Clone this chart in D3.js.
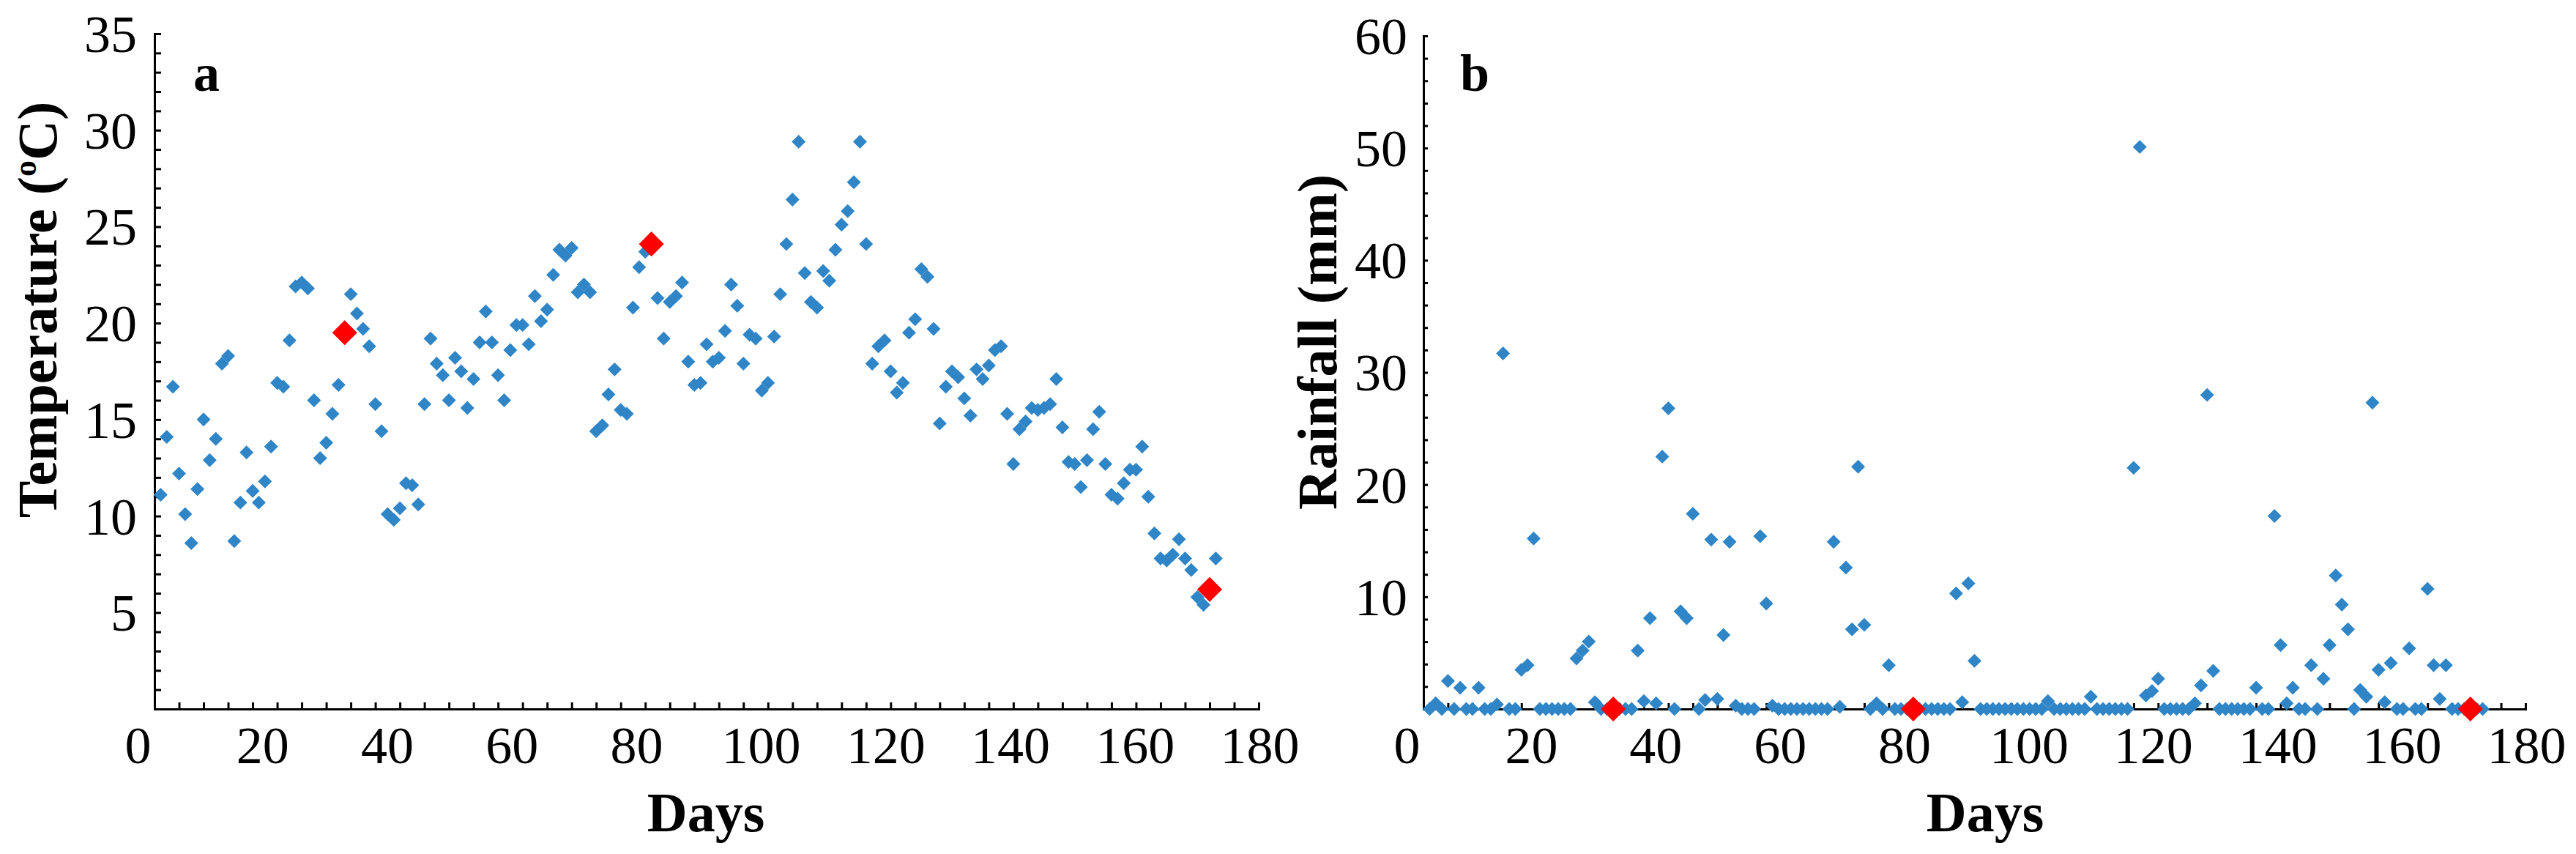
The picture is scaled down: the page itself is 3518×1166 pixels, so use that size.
<!DOCTYPE html>
<html>
<head>
<meta charset="utf-8">
<script src="https://cdn.jsdelivr.net/npm/d3@7"></script>
<style>
  body { margin: 0; background: #fff; }
  svg { display: block; background: #fff; }
</style>
</head>
<body>
<script>
const width  = 3518;
const height = 1166;

// daily mean temperature (day 1 .. 173)
const temperature = [
  11.1, 14.1, 16.7, 12.2, 10.1, 8.6, 11.4, 15.0, 12.9, 14.0,
  17.9, 18.3, 8.7, 10.7, 13.3, 11.3, 10.7, 11.8, 13.6, 16.9,
  16.7, 19.1, 21.9, 22.1, 21.8, 16.0, 13.0, 13.8, 15.3, 16.8,
  19.5, 21.5, 20.5, 19.7, 18.8, 15.8, 14.4, 10.1, 9.8, 10.4,
  11.7, 11.6, 10.6, 15.8, 19.2, 17.9, 17.3, 16.0, 18.2, 17.5,
  15.6, 17.1, 19.0, 20.6, 19.0, 17.3, 16.0, 18.6, 19.9, 19.9,
  18.9, 21.4, 20.1, 20.7, 22.5, 23.8, 23.5, 23.9, 21.6, 22.0,
  21.6, 14.4, 14.7, 16.3, 17.6, 15.5, 15.3, 20.8, 22.9, 23.7,
  24.1, 21.3, 19.2, 21.1, 21.4, 22.1, 18.0, 16.8, 16.9, 18.9,
  18.0, 18.2, 19.6, 22.0, 20.9, 17.9, 19.4, 19.2, 16.5, 16.9,
  19.3, 21.5, 24.1, 26.4, 29.4, 22.6, 21.1, 20.8, 22.7, 22.2,
  23.8, 25.1, 25.8, 27.3, 29.4, 24.1, 17.9, 18.8, 19.1, 17.5,
  16.4, 16.9, 19.5, 20.2, 22.8, 22.4, 19.7, 14.8, 16.7, 17.5,
  17.2, 16.1, 15.2, 17.6, 17.1, 17.8, 18.6, 18.8, 15.3, 12.7,
  14.5, 14.9, 15.6, 15.5, 15.6, 15.8, 17.1, 14.6, 12.8, 12.7,
  11.5, 12.9, 14.5, 15.4, 12.7, 11.1, 10.9, 11.7, 12.4, 12.4,
  13.6, 11.0, 9.1, 7.8, 7.7, 8.0, 8.8, 7.8, 7.2, 5.8,
  5.4, 6.2, 7.8
];

// daily rainfall in mm (day 1 .. 173)
const rainfall = [
  0, 0.5, 0, 2.5, 0, 1.9, 0, 0, 1.9, 0,
  0, 0.4, 31.7, 0, 0, 3.5, 3.9, 15.2, 0, 0,
  0, 0, 0, 0, 4.5, 5.2, 6.0, 0.6, 0, 0,
  0, 0, 0, 0, 5.2, 0.7, 8.1, 0.5, 22.5, 26.8,
  0, 8.7, 8.1, 17.4, 0, 0.8, 15.1, 0.9, 6.6, 14.9,
  0.3, 0, 0, 0, 15.4, 9.4, 0.3, 0, 0, 0,
  0, 0, 0, 0, 0, 0, 14.9, 0.2, 12.6, 7.1,
  21.6, 7.5, 0, 0.5, 0, 3.9, 0, 0, 0, 0,
  0, 0, 0, 0, 0, 0, 10.3, 0.6, 11.2, 4.3,
  0, 0, 0, 0, 0, 0, 0, 0, 0, 0,
  0, 0.7, 0, 0, 0, 0, 0, 0, 1.1, 0,
  0, 0, 0, 0, 0, 21.5, 50.1, 1.2, 1.6, 2.7,
  0, 0, 0, 0, 0, 0.5, 2.1, 28.0, 3.4, 0,
  0, 0, 0, 0, 0, 1.9, 0, 0, 17.2, 5.7,
  0.5, 1.9, 0, 0, 3.9, 0, 2.7, 5.7, 11.9, 9.3,
  7.1, 0, 1.7, 1.1, 27.3, 3.5, 0.6, 4.1, 0, 0,
  5.4, 0, 0, 10.7, 3.9, 0.9, 3.9, 0, 0, 0,
  0, 0, 0
];

// highlighted sampling days
const sampleDaysA = [31, 81, 172];
const sampleDaysB = [31, 80, 171];

const dayLabels  = [0, 20, 40, 60, 80, 100, 120, 140, 160, 180];
const tempLabels = [5, 10, 15, 20, 25, 30, 35];
const rainLabels = [10, 20, 30, 40, 50, 60];

const blue = '#2f85c6';
const red  = '#ff0000';
const font = '"Liberation Serif", "Times New Roman", serif';

const diamond = {
  draw(context, size) {
    const r = Math.sqrt(size / 2);
    context.moveTo(0, -r);
    context.lineTo(r, 0);
    context.lineTo(0, r);
    context.lineTo(-r, 0);
    context.closePath();
  }
};

const svg = d3.select('body').append('svg')
  .attr('width', width)
  .attr('height', height);

svg.append('rect').attr('width', width).attr('height', height).attr('fill', '#fff');

const drawPanel = function(p) {
  const x = d3.scaleLinear().domain([0, 180]).range([p.x0, p.x1]);
  const y = d3.scaleLinear().domain([0, p.yMax]).range([p.y0, p.y1]);
  const g = svg.append('g');

  const xAxis = d3.axisBottom(x)
    .tickValues(d3.range(0, 181, 4))
    .tickSize(-p.xTick)
    .tickSizeOuter(0)
    .tickFormat(d => dayLabels.includes(d) ? d : '');

  const yAxis = d3.axisLeft(y)
    .tickValues(d3.range(0, p.yMax + 0.001, p.yStep))
    .tickSize(-p.yTick)
    .tickSizeOuter(0)
    .tickPadding(p.yPad)
    .tickFormat(d => p.yLabels.includes(d) ? d : '');

  const gx = g.append('g')
    .attr('transform', 'translate(0,' + p.y0 + ')')
    .call(xAxis);
  gx.selectAll('text')
    .attr('y', 74)
    .attr('dy', 0)
    .attr('dx', d => -23 + 24 * d / 180);

  const gy = g.append('g')
    .attr('transform', 'translate(' + p.x0 + ',0)')
    .call(yAxis);
  gy.selectAll('text').attr('dy', '0.34em');

  [gx, gy].forEach(a => {
    a.attr('font-family', font).attr('font-size', 72);
    a.selectAll('text').attr('fill', '#000');
    a.selectAll('.domain').attr('stroke', '#000').attr('stroke-width', 3).attr('stroke-linecap', 'square');
    a.selectAll('.tick line').attr('stroke', '#000').attr('stroke-width', 3);
  });

  const sym  = d3.symbol().type(diamond).size(180);
  const big  = d3.symbol().type(diamond).size(580);

  g.selectAll('.pt')
    .data(p.values)
    .enter().append('path')
    .attr('class', 'pt')
    .attr('d', sym)
    .attr('fill', blue)
    .attr('transform', (d, i) => 'translate(' + x(i + 1) + ',' + y(d) + ')');

  g.selectAll('.hl')
    .data(p.redDays)
    .enter().append('path')
    .attr('class', 'hl')
    .attr('d', big)
    .attr('fill', red)
    .attr('transform', d => 'translate(' + x(d) + ',' + y(p.values[d - 1]) + ')');

  // axis titles and panel letter
  g.append('text')
    .attr('x', p.daysX).attr('y', 1135)
    .attr('text-anchor', 'middle')
    .attr('font-family', font).attr('font-weight', 'bold').attr('font-size', 76)
    .text('Days');

  const yt = g.append('text')
    .attr('transform', 'translate(' + p.titleX + ',' + p.titleY + ') rotate(-90)')
    .attr('text-anchor', 'middle')
    .attr('font-family', font).attr('font-weight', 'bold').attr('font-size', 76);
  p.title(yt);

  g.append('text')
    .attr('x', p.letterX).attr('y', 124)
    .attr('font-family', font).attr('font-weight', 'bold').attr('font-size', 72)
    .text(p.letter);
};

drawPanel({
  x0: 211, x1: 1719, y0: 968, y1: 46,
  yMax: 35, yStep: 1, yLabels: tempLabels,
  xTick: 9, yTick: 9, yPad: 24,
  values: temperature, redDays: sampleDaysA,
  daysX: 964, titleX: 77, titleY: 423,
  letter: 'a', letterX: 264,
  title: t => {
    t.append('tspan').text('Temperature (');
    t.append('tspan').attr('font-size', 44).attr('dy', -28).text('o');
    t.append('tspan').attr('dy', 28).text('C)');
  }
});

drawPanel({
  x0: 1944, x1: 3449, y0: 968, y1: 49,
  yMax: 60, yStep: 2, yLabels: rainLabels,
  xTick: 8, yTick: 6, yPad: 22,
  values: rainfall, redDays: sampleDaysB,
  daysX: 2711, titleX: 1825, titleY: 467,
  letter: 'b', letterX: 1994,
  title: t => t.text('Rainfall (mm)')
});
</script>
</body>
</html>
